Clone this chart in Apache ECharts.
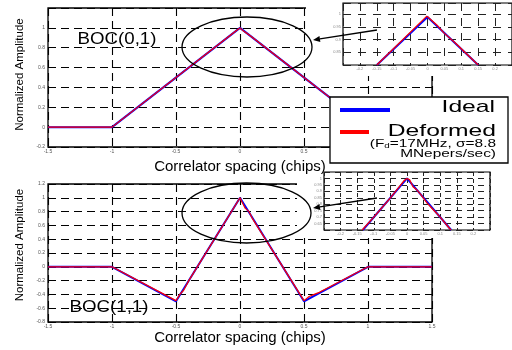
<!DOCTYPE html>
<html>
<head>
<meta charset="utf-8">
<script src="https://cdn.jsdelivr.net/npm/echarts@6.0.0/dist/echarts.min.js"></script>
<style>
  html, body { margin: 0; padding: 0; background: #fff; }
  #chart { width: 512px; height: 350px; }
</style>
</head>
<body>
<div id="chart"></div>
<script>
// BOC(0,1) main panel
const boc01X = [-1.5, -1, 0, 1, 1.5];
const boc01Ideal = [0, 0, 1, 0, 0];
const boc01DefX = [-1.5, -1, -0.02, 0, 0.03, 0.07, 1, 1.5];
const boc01Def = [0, 0, 0.98, 1, 0.965, 0.93, 0, 0];

// BOC(1,1) main panel
const boc11X = [-1.5, -1, -0.5, 0, 0.5, 1, 1.5];
const boc11Ideal = [0, 0, -0.5, 1, -0.5, 0, 0];
const boc11DefX = [-1.5, -1, -0.5, -0.47, -0.44, -0.4, 0, 0.04, 0.07, 0.1, 0.5, 0.54, 0.58, 0.62, 1, 1.5];
const boc11Def = [0, 0, -0.49, -0.4, -0.34, -0.2, 1, 0.85, 0.8, 0.69, -0.49, -0.43, -0.4, -0.37, 0, 0];

// zoomed insets around the peak
const zoom01X = [-0.15, 0, 0.15];
const zoom01Ideal = [0.8, 0.99, 0.8];
const zoom01DefX = [-0.15, -0.002, 0.005, 0.03, 0.05, 0.08, 0.15];
const zoom01Def = [0.8, 0.993, 0.985, 0.955, 0.925, 0.89, 0.8];

const zoom11X = [-0.133, 0, 0.133];
const zoom11Ideal = [0.6, 1, 0.6];
const zoom11DefX = [-0.135, -0.1, -0.05, -0.01, 0, 0.008, 0.018, 0.03, 0.04, 0.06, 0.08, 0.1, 0.132];
const zoom11Def = [0.6, 0.7, 0.85, 0.98, 1.0, 0.99, 0.935, 0.91, 0.88, 0.81, 0.755, 0.7, 0.6];

const FONT = 'Liberation Sans, Arial, sans-serif';
const zip = (xs, ys) => xs.map((x, i) => [x, ys[i]]);

const chart = echarts.init(document.getElementById('chart'), null, { renderer: 'canvas' });

const mainGrid = (top, bottom) => ({
    left: 48, right: 80, top: top, bottom: bottom,
    show: true, borderColor: '#000', borderWidth: 1.3, backgroundColor: '#fff'
});
const insetGrid = (left, top, width, height) => ({
    left: left, top: top, width: width, height: height, z: 60,
    show: true, borderColor: '#000', borderWidth: 1.2, backgroundColor: '#fff'
});

const dashMain = { show: true, lineStyle: { color: '#000', width: 1.1, type: [8, 5] } };

const mainX = (gridIndex, gap) => ({
    type: 'value', gridIndex: gridIndex, min: -1.5, max: 1.5, interval: 0.5,
    name: 'Correlator spacing (chips)', nameLocation: 'middle', nameGap: gap,
    nameTextStyle: { fontFamily: FONT, fontSize: 15, color: '#000' },
    axisLine: { show: false }, axisTick: { show: false },
    axisLabel: { fontSize: 5, color: '#555', margin: 2, fontFamily: FONT },
    splitLine: dashMain
});
const mainY = (gridIndex, min, showMax, pad) => ({
    type: 'value', gridIndex: gridIndex, min: min, max: 1.2, interval: 0.2,
    name: 'Normalized Amplitude', nameLocation: 'middle', nameGap: 18,
    nameTextStyle: { fontFamily: FONT, fontSize: 11.5, color: '#000', padding: [0, 0, 0, pad] },
    axisLine: { show: false }, axisTick: { show: false },
    axisLabel: { fontSize: 5, color: '#555', margin: 3, fontFamily: FONT, showMaxLabel: showMax },
    splitLine: dashMain
});
const insetAxis = (gridIndex, extra, dash) => Object.assign({
    type: 'value', gridIndex: gridIndex, z: 60,
    axisLine: { show: false }, axisTick: { show: false },
    axisLabel: { fontSize: 4, color: '#888', margin: 2, fontFamily: FONT, showMinLabel: false, showMaxLabel: false },
    splitLine: { show: true, lineStyle: { color: '#222', width: 1, type: dash } }
}, extra);

const line = (name, data, xi, color, width, z) => ({
    name: name, type: 'line', data: data, xAxisIndex: xi, yAxisIndex: xi,
    showSymbol: false, symbol: 'none', z: z, animation: false,
    lineStyle: { color: color, width: width }
});

const arrow = (x1, y1, x2, y2) => {
    const dx = x2 - x1, dy = y2 - y1, len = Math.hypot(dx, dy);
    const ux = dx / len, uy = dy / len, bx = x2 - 7 * ux, by = y2 - 7 * uy;
    return [
        { type: 'line', z: 70, shape: { x1: x1, y1: y1, x2: bx, y2: by }, style: { stroke: '#000', lineWidth: 1.3 } },
        { type: 'polygon', z: 70, shape: { points: [[x2, y2], [bx - 3 * uy, by + 3 * ux], [bx + 3 * uy, by - 3 * ux]] }, style: { fill: '#000' } }
    ];
};

const option = {
    backgroundColor: '#fff',
    animation: false,
    textStyle: { fontFamily: FONT },
    grid: [
        mainGrid(8, 203),
        mainGrid(184, 28),
        insetGrid(343, 3, 170, 62),
        insetGrid(324, 172, 166, 58)
    ],
    xAxis: [
        mainX(0, 12),
        mainX(1, 7),
        insetAxis(2, { min: -0.25, max: 0.25, interval: 0.05 }, [8, 7]),
        insetAxis(3, { min: -0.25, max: 0.25, interval: 0.05 }, [4, 3])
    ],
    yAxis: [
        mainY(0, -0.2, false, 6),
        mainY(1, -0.8, true, 16),
        insetAxis(2, { min: 0.8, max: 1.045, interval: 0.05 }, [8, 7]),
        insetAxis(3, { min: 0.6, max: 1.05, interval: 0.05 }, [6, 5])
    ],
    series: [
        line('Ideal', zip(boc01X, boc01Ideal), 0, '#0000ff', 2, 2),
        line('Deformed', zip(boc01DefX, boc01Def), 0, '#ff0000', 1.2, 3),
        line('Ideal', zip(boc11X, boc11Ideal), 1, '#0000ff', 2, 2),
        line('Deformed', zip(boc11DefX, boc11Def), 1, '#ff0000', 1.2, 3),
        line('Ideal', zip(zoom01X, zoom01Ideal), 2, '#0000ff', 2, 61),
        line('Deformed', zip(zoom01DefX, zoom01Def), 2, '#ff0000', 1.2, 62),
        line('Ideal', zip(zoom11X, zoom11Ideal), 3, '#0000ff', 2, 61),
        line('Deformed', zip(zoom11DefX, zoom11Def), 3, '#ff0000', 1.2, 62)
    ],
    graphic: [
        // white paper behind the pasted zoom boxes
        { type: 'rect', z: 55, shape: { x: 306, y: 0, width: 206, height: 76 }, style: { fill: '#fff' } },
        { type: 'rect', z: 55, shape: { x: 297, y: 174, width: 215, height: 64 }, style: { fill: '#fff' } },
        { type: 'ellipse', z: 70, shape: { cx: 247, cy: 47, rx: 65, ry: 30 }, style: { fill: 'none', stroke: '#000', lineWidth: 1.3 } },
        { type: 'ellipse', z: 70, shape: { cx: 246.5, cy: 213, rx: 64.5, ry: 30 }, style: { fill: 'none', stroke: '#000', lineWidth: 1.3 } },
        ...arrow(377, 30, 313, 40),
        ...arrow(377, 198, 313, 208),
        { type: 'text', z: 70, x: 117, y: 39, scaleX: 1.1,
          style: { text: 'BOC(0,1)', font: '17px ' + FONT, fill: '#000', align: 'center', verticalAlign: 'middle' } },
        { type: 'text', z: 70, x: 109, y: 307, scaleX: 1.1,
          style: { text: 'BOC(1,1)', font: '17px ' + FONT, fill: '#000', align: 'center', verticalAlign: 'middle' } },
        // legend box
        { type: 'rect', z: 80, shape: { x: 330, y: 97, width: 178, height: 66 }, style: { fill: '#fff', stroke: '#000', lineWidth: 1.3 } },
        { type: 'line', z: 81, shape: { x1: 340, y1: 110, x2: 390, y2: 110 }, style: { stroke: '#0000ff', lineWidth: 4 } },
        { type: 'line', z: 81, shape: { x1: 340, y1: 132, x2: 369, y2: 132 }, style: { stroke: '#ff0000', lineWidth: 4 } },
        { type: 'text', z: 81, x: 495, y: 107, scaleX: 1.45,
          style: { text: 'Ideal', font: '17px ' + FONT, fill: '#000', align: 'right', verticalAlign: 'middle' } },
        { type: 'text', z: 81, x: 496, y: 131, scaleX: 1.45,
          style: { text: 'Deformed', font: '17px ' + FONT, fill: '#000', align: 'right', verticalAlign: 'middle' } },
        { type: 'text', z: 81, x: 496, y: 144, scaleX: 1.4,
          style: {
              text: '{a|(F}{s|d}{a|=17MHz, σ=8.8}', align: 'right', verticalAlign: 'middle',
              rich: {
                  a: { fontFamily: FONT, fontSize: 11, fill: '#000', verticalAlign: 'middle' },
                  s: { fontFamily: FONT, fontSize: 7, fill: '#000', verticalAlign: 'bottom', padding: [5, 0, 0, 0] }
              }
          } },
        { type: 'text', z: 81, x: 496, y: 154, scaleX: 1.4,
          style: { text: 'MNepers/sec)', font: '11px ' + FONT, fill: '#000', align: 'right', verticalAlign: 'middle' } }
    ]
};

chart.setOption(option);
</script>
</body>
</html>
